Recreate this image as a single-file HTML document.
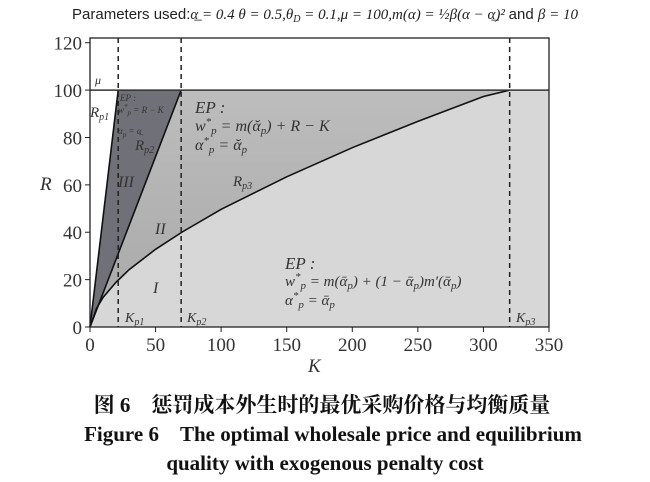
<!DOCTYPE html>
<html><head><meta charset="utf-8"><style>
body{margin:0;background:#fff;width:650px;height:482px;overflow:hidden}
svg{display:block}
.t{font-family:"Liberation Serif",serif;fill:#333}
.it{font-family:"Liberation Serif",serif;font-style:italic;fill:#333}
</style></head><body>
<svg id="chart" width="650" height="482" viewBox="0 0 650 482" xmlns="http://www.w3.org/2000/svg">
<defs><linearGradient id="g2" x1="0" y1="1" x2="0" y2="0"><stop offset="0" stop-color="#a8a8a8"/><stop offset="1" stop-color="#bdbdbd"/></linearGradient></defs>
<text x="325" y="19" text-anchor="middle" font-family="Liberation Sans, sans-serif" font-size="15" fill="#222">Parameters used:<tspan font-family="Liberation Serif" font-style="italic">α̲ = 0.4 θ = 0.5,θ<tspan font-size="10" dy="3">D</tspan><tspan dy="-3"> = 0.1,μ = 100,m(α) = ½β(α − α̲)² </tspan></tspan>and <tspan font-family="Liberation Serif" font-style="italic">β = 10</tspan></text>
<g id="plot"></g>
<text x="322" y="412" text-anchor="middle" font-family="Liberation Serif, Noto Serif CJK SC, serif" font-weight="bold" font-size="21" fill="#111">图 6　惩罚成本外生时的最优采购价格与均衡质量</text>
<text x="333" y="441" text-anchor="middle" font-family="Liberation Serif, serif" font-weight="bold" font-size="21" fill="#111">Figure 6　The optimal wholesale price and equilibrium</text>
<text x="325" y="470" text-anchor="middle" font-family="Liberation Serif, serif" font-weight="bold" font-size="21" fill="#111">quality with exogenous penalty cost</text>
</svg>
<script>
const xTicks=[0,50,100,150,200,250,300,350];
const yTicks=[0,20,40,60,80,100,120];
const rp3K=[0,5,10,20,30,50,70,100,150,200,250,300,320];
const rp3R=[0,7.9,12.5,19,24.3,32.8,40,49.7,63.4,75.7,86.8,97.3,100];
const mu=100;
const kp1=21.5, kp2=69.5, kp3=320;
const X0=90,X1=549,Y0=327,Y1=38,xMax=350,yMin=0,yTop=122;
const sx=k=>X0+(X1-X0)*k/xMax;
const sy=r=>Y0-(Y0-Y1)*(r-yMin)/(yTop-yMin);
const NS="http://www.w3.org/2000/svg";
const g=document.getElementById('plot');
function mk(tag,at){const e=document.createElementNS(NS,tag);for(const k in at)e.setAttribute(k,at[k]);g.appendChild(e);return e;}
let curve=rp3K.map((k,i)=>sx(k)+','+sy(rp3R[i])).join(' ');
let bg=mk('rect',{x:X0,y:sy(mu),width:X1-X0,height:Y0-sy(mu),fill:'#d7d7d7'});


let r2=mk('polygon',{points:sx(0)+','+sy(0)+' '+sx(kp2)+','+sy(mu)+' '+sx(kp3)+','+sy(mu)+' '+rp3K.slice().reverse().map((k,i)=>sx(k)+','+sy(rp3R[rp3R.length-1-i])).join(' '),fill:'url(#g2)'});


let w1=mk('polygon',{points:sx(0)+','+sy(0)+' '+sx(0)+','+sy(mu)+' '+sx(kp1)+','+sy(mu),fill:'#ffffff'});


let r3=mk('polygon',{points:sx(0)+','+sy(0)+' '+sx(kp1)+','+sy(mu)+' '+sx(kp2)+','+sy(mu),fill:'#707178'});


let l1=mk('line',{x1:sx(0),y1:sy(0),x2:sx(kp1),y2:sy(mu),stroke:'#111','stroke-width':1.6});


let l2=mk('line',{x1:sx(0),y1:sy(0),x2:sx(kp2),y2:sy(mu),stroke:'#111','stroke-width':1.6});


let l3=mk('polyline',{points:curve,fill:'none',stroke:'#111','stroke-width':1.6});


let lm=mk('line',{x1:X0,y1:sy(mu),x2:X1,y2:sy(mu),stroke:'#333','stroke-width':1.5});


[[kp1,'kp1'],[kp2,'kp2'],[kp3,'kp3']].forEach(([k,n])=>{
 const d=mk('line',{x1:sx(k),y1:Y1,x2:sx(k),y2:Y0,stroke:'#222','stroke-width':1.5,'stroke-dasharray':'5,4'});
 
 
});
let fr=mk('rect',{x:X0,y:Y1,width:X1-X0,height:Y0-Y1,fill:'none',stroke:'#222','stroke-width':1.3});


xTicks.forEach(v=>{
 const t=mk('line',{x1:sx(v),y1:Y0,x2:sx(v),y2:Y0+5,stroke:'#222'});
 
 
 const l=mk('text',{x:sx(v),y:Y0+24,'text-anchor':'middle','font-size':19,class:'t'});
 l.textContent=v;
 
 
});
yTicks.forEach(v=>{
 const t=mk('line',{x1:X0-5,y1:sy(v),x2:X0,y2:sy(v),stroke:'#222'});
 
 
 const l=mk('text',{x:X0-8,y:sy(v)+7,'text-anchor':'end','font-size':19,class:'t'});
 l.textContent=v;
 
 
});
function lab(x,y,s,fs,name,cls){const e=mk('text',{x:x,y:y,'font-size':fs,class:cls||'it'});e.innerHTML=s;
 
 return e;}
lab(308,372,'K',19,'x-axis-title');
lab(40,190,'R',19,'y-axis-title');
lab(95,84,'μ',12,'mu-label');
lab(90,117,'R<tspan font-size="10" dy="3">p1</tspan>',15,'rp1-label');
lab(135,150,'R<tspan font-size="10" dy="3">p2</tspan>',15,'rp2-label');
lab(233,186,'R<tspan font-size="10" dy="3">p3</tspan>',15,'rp3-label');
lab(118,187,'III',16,'region-iii-label');
lab(155,234,'II',16,'region-ii-label');
lab(153,293,'I',16,'region-i-label');
lab(125,322,'K<tspan font-size="10" dy="3">p1</tspan>',14,'kp1-label');
lab(187,322,'K<tspan font-size="10" dy="3">p2</tspan>',14,'kp2-label');
lab(516,322,'K<tspan font-size="10" dy="3">p3</tspan>',14,'kp3-label');
lab(120,101,'EP :',9,'region-iii-ep');
lab(118,113,'w<tspan font-size="7" dy="-4">*</tspan><tspan font-size="7" dy="6">p</tspan><tspan dy="-2"> = R − K</tspan>',9,'region-iii-wp');
lab(118,134,'α<tspan font-size="7" dy="3">p</tspan><tspan dy="-3"> = α̲</tspan>',9,'region-iii-alpha');
lab(195,113,'EP :',17,'region-ii-ep');
lab(195,131,'w<tspan font-size="11" dy="-6">*</tspan><tspan font-size="11" dy="9">p</tspan><tspan dy="-3"> = m(ᾰ<tspan font-size="11" dy="3">p</tspan><tspan dy="-3">) + R − K</tspan></tspan>',16,'region-ii-wp');
lab(195,150,'α<tspan font-size="11" dy="-6">*</tspan><tspan font-size="11" dy="9">p</tspan><tspan dy="-3"> = ᾰ<tspan font-size="11" dy="3">p</tspan></tspan>',16,'region-ii-alpha');
lab(285,269,'EP :',17,'region-i-ep');
lab(285,286,'w<tspan font-size="11" dy="-6">*</tspan><tspan font-size="11" dy="9">p</tspan><tspan dy="-3"> = m(ᾱ<tspan font-size="11" dy="3">p</tspan><tspan dy="-3">) + (1 − ᾱ<tspan font-size="11" dy="3">p</tspan><tspan dy="-3">)m′(ᾱ<tspan font-size="11" dy="3">p</tspan><tspan dy="-3">)</tspan></tspan></tspan></tspan>',15,'region-i-wp');
lab(285,305,'α<tspan font-size="11" dy="-6">*</tspan><tspan font-size="11" dy="9">p</tspan><tspan dy="-3"> = ᾱ<tspan font-size="11" dy="3">p</tspan></tspan>',15,'region-i-alpha');
</script>
</body></html>
